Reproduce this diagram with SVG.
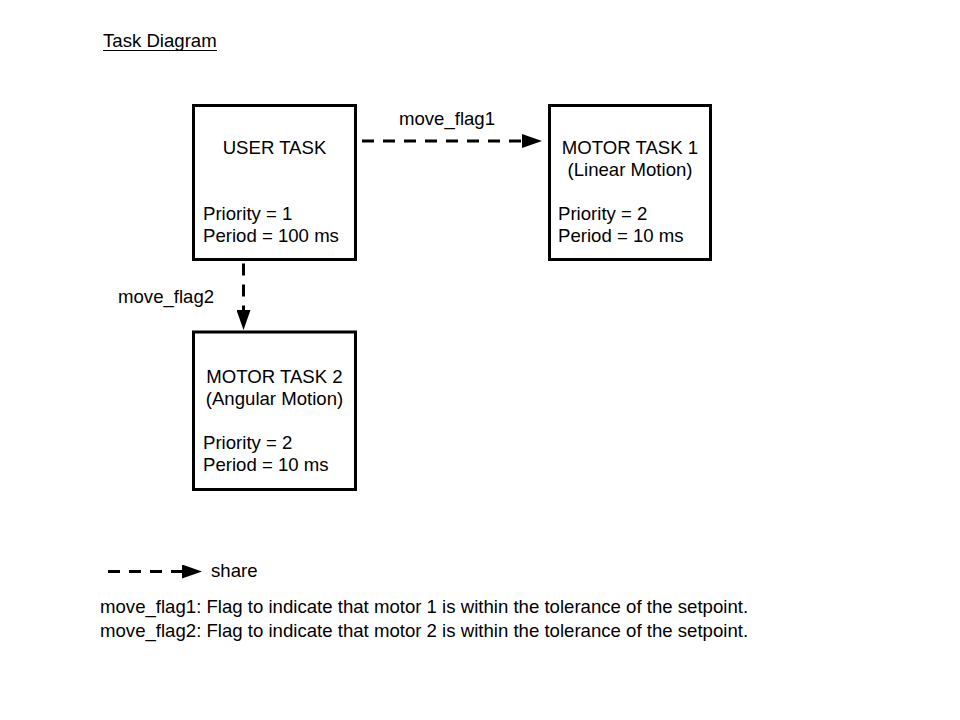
<svg xmlns="http://www.w3.org/2000/svg" width="960" height="720" viewBox="0 0 960 720">
  <style>
    text { font-family: "Liberation Sans", Arial, sans-serif; font-size: 18.6px; fill: #000; }
    .c { text-anchor: middle; }
    .box { fill: #fff; stroke: #000; stroke-width: 3; }
    .dash { fill: none; stroke: #000; stroke-width: 3; stroke-dasharray: 12 9; }
  </style>
  <defs>
    <marker id="arrow" markerUnits="userSpaceOnUse" markerWidth="20" markerHeight="14" refX="0" refY="7" orient="auto">
      <path d="M0,0 L20,7 L0,14 z" fill="#000"/>
    </marker>
  </defs>
  <rect width="960" height="720" fill="#fff"/>

  <g id="title">
    <text x="103" y="47">Task Diagram</text>
    <line x1="103" y1="50.5" x2="217" y2="50.5" stroke="#000" stroke-width="1.2"/>
  </g>

  <g id="user-task">
    <rect class="box" x="193.5" y="105.5" width="162" height="154"/>
    <text class="c" x="274.5" y="154">USER TASK</text>
    <text x="203" y="220">Priority = 1</text>
    <text x="203" y="242">Period = 100 ms</text>
  </g>

  <g id="motor-task-1">
    <rect class="box" x="549.5" y="105.5" width="161" height="154"/>
    <text class="c" x="630" y="154">MOTOR TASK 1</text>
    <text class="c" x="630" y="176">(Linear Motion)</text>
    <text x="558" y="220">Priority = 2</text>
    <text x="558" y="242">Period = 10 ms</text>
  </g>

  <g id="motor-task-2">
    <rect class="box" x="193.5" y="332" width="162" height="157.5"/>
    <text class="c" x="274.5" y="383">MOTOR TASK 2</text>
    <text class="c" x="274.5" y="405">(Angular Motion)</text>
    <text x="203" y="449">Priority = 2</text>
    <text x="203" y="471">Period = 10 ms</text>
  </g>

  <g id="connectors">
    <line class="dash" x1="362" y1="141" x2="522" y2="141" marker-end="url(#arrow)"/>
    <text class="c" x="447" y="125">move_flag1</text>
    <line class="dash" x1="243.5" y1="263.5" x2="243.5" y2="310" marker-end="url(#arrow)"/>
    <text x="118" y="303">move_flag2</text>
  </g>

  <g id="legend">
    <line class="dash" x1="108" y1="571.5" x2="182" y2="571.5" marker-end="url(#arrow)"/>
    <text x="211" y="577">share</text>
    <text x="100" y="613">move_flag1: Flag to indicate that motor 1 is within the tolerance of the setpoint.</text>
    <text x="100" y="637">move_flag2: Flag to indicate that motor 2 is within the tolerance of the setpoint.</text>
  </g>
</svg>
